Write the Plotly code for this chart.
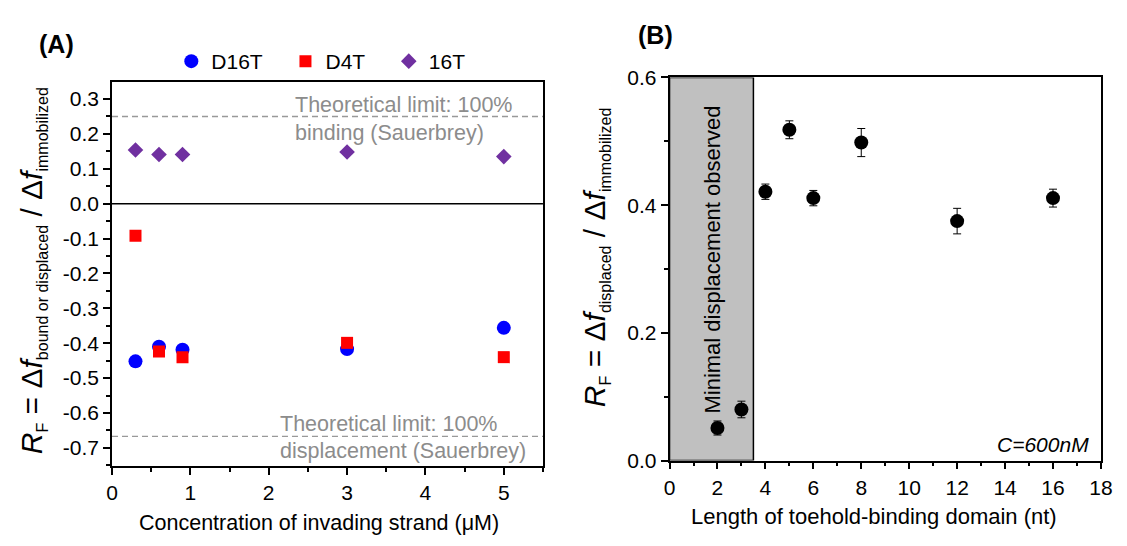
import plotly.graph_objects as go

# Panel A data
conc = [0.3, 0.6, 0.9, 3, 5]
d16t = [-0.452, -0.410, -0.419, -0.417, -0.356]
d4t = [-0.092, -0.424, -0.440, -0.399, -0.440]
t16 = [0.154, 0.141, 0.141, 0.148, 0.135]
ticks_a = [0.3, 0.2, 0.1, 0.0, -0.1, -0.2, -0.3, -0.4, -0.5, -0.6, -0.7]
ticklabels_a = ["0.3", "0.2", "0.1", "0.0", "-0.1", "-0.2", "-0.3", "-0.4", "-0.5", "-0.6", "-0.7"]

# Panel B data
toehold = [2, 3, 4, 5, 6, 8, 12, 16]
rf = [0.051, 0.080, 0.421, 0.518, 0.411, 0.498, 0.375, 0.411]
rf_err = [0.011, 0.013, 0.012, 0.014, 0.012, 0.022, 0.020, 0.014]

FONT = "Liberation Sans, Arial, sans-serif"
W, H = 1127, 546


def px(x):
    return x / W


def py(y):
    return 1 - y / H


fig = go.Figure()
fig.add_trace(go.Scatter(x=conc, y=d16t, mode="markers", name="D16T", legend="legend",
                         marker=dict(symbol="circle", size=14, color="#0000ff"),
                         xaxis="x", yaxis="y"))
fig.add_trace(go.Scatter(x=conc, y=d4t, mode="markers", name="D4T", legend="legend2",
                         marker=dict(symbol="square", size=12, color="#ff0000"),
                         xaxis="x", yaxis="y"))
fig.add_trace(go.Scatter(x=conc, y=t16, mode="markers", name="16T", legend="legend3",
                         marker=dict(symbol="diamond", size=12, color="#7030a0"),
                         xaxis="x", yaxis="y"))
fig.add_trace(go.Scatter(x=toehold, y=rf, mode="markers", showlegend=False,
                         marker=dict(symbol="circle", size=14, color="black"),
                         error_y=dict(type="data", array=rf_err, color="black",
                                      thickness=1, width=4),
                         xaxis="x2", yaxis="y2"))

axis_common = dict(showline=True, mirror=True, linecolor="black", linewidth=1.6,
                   ticks="outside", ticklen=7, tickwidth=1.5, tickcolor="black",
                   showgrid=False, zeroline=False,
                   tickfont=dict(family=FONT, size=21, color="black"))

leg_common = dict(orientation="h", yanchor="middle", y=py(51.7),
                  font=dict(family=FONT, size=21, color="black"),
                  bgcolor="rgba(0,0,0,0)", xanchor="left")

fig.update_layout(
    width=W, height=H, autosize=False,
    margin=dict(l=0, r=0, t=0, b=0),
    paper_bgcolor="white", plot_bgcolor="white",
    font=dict(family=FONT, color="black"),
    xaxis=dict(domain=[px(107.7), px(545.7)], range=[0, 5.5], tickvals=[0, 1, 2, 3, 4, 5],
               minor=dict(dtick=0.5, ticks="outside", ticklen=4, tickcolor="black", tickwidth=1.5),
               anchor="y", **axis_common),
    yaxis=dict(domain=[py(474), py(73.3)], range=[-0.7522, 0.3483],
               tickvals=ticks_a, ticktext=ticklabels_a,
               minor=dict(dtick=0.05, ticks="outside", ticklen=4, tickcolor="black", tickwidth=1.5),
               anchor="x", **axis_common),
    xaxis2=dict(domain=[px(674.3), px(1112.7)], range=[0, 18], dtick=2,
                minor=dict(dtick=1, ticks="outside", ticklen=4, tickcolor="black", tickwidth=1.5),
                anchor="y2", **axis_common),
    yaxis2=dict(domain=[py(468.3), py(68.3)], range=[0, 0.6], dtick=0.2,
                tickformat=".1f",
                minor=dict(dtick=0.1, ticks="outside", ticklen=4, tickcolor="black", tickwidth=1.5),
                anchor="x2", **axis_common),
    legend=dict(x=px(168), **leg_common),
    legend2=dict(x=px(284), **leg_common),
    legend3=dict(x=px(389), **leg_common),
    shapes=[
        dict(type="line", xref="x", yref="y", x0=0, x1=5.5, y0=0, y1=0,
             line=dict(color="black", width=1.6)),
        dict(type="line", xref="x", yref="y", x0=0, x1=5.5, y0=0.25, y1=0.25,
             line=dict(color="#999999", width=1.3, dash="6px,4px")),
        dict(type="line", xref="x", yref="y", x0=0, x1=5.5, y0=-0.667, y1=-0.667,
             line=dict(color="#999999", width=1.3, dash="6px,4px")),
        dict(type="rect", xref="x2", yref="y2", x0=0, x1=3.5, y0=0, y1=0.6,
             fillcolor="#c0c0c0", line=dict(color="black", width=1.5), layer="below"),
    ],
)

gray = "#8c8c8c"
ytitle_a = ("<i>R</i><sub><span style='font-size:16px'>F</span></sub> = Δ<i>f</i>"
            "<sub><span style='font-size:16px'>bound or displaced</span></sub> / Δ<i>f</i>"
            "<sub><span style='font-size:16px'>immobilized</span></sub>")
ytitle_b = ("<i>R</i><sub><span style='font-size:16px'>F</span></sub> = Δ<i>f</i>"
            "<sub><span style='font-size:16px'>displaced</span></sub> / Δ<i>f</i>"
            "<sub><span style='font-size:16px'>immobilized</span></sub>")
ann = [
    dict(text="<b>(A)</b>", x=px(51), y=py(33), font=dict(size=25)),
    dict(text="<b>(B)</b>", x=px(660), y=py(24), font=dict(size=25)),
    dict(text="Theoretical limit: 100%", x=px(292), y=py(96.7), xanchor="left", font=dict(size=21.5, color=gray)),
    dict(text="binding (Sauerbrey)", x=px(292), y=py(126.7), xanchor="left", font=dict(size=21.5, color=gray)),
    dict(text="Theoretical limit: 100%", x=px(276.5), y=py(430), xanchor="left", font=dict(size=21.5, color=gray)),
    dict(text="displacement (Sauerbrey)", x=px(276.5), y=py(458.3), xanchor="left", font=dict(size=21.5, color=gray)),
    dict(text=ytitle_a, x=px(27), y=py(270), textangle=-90, font=dict(size=30)),
    dict(text=ytitle_b, x=px(599.5), y=py(256), textangle=-90, font=dict(size=30)),
    dict(text="Concentration of invading strand (μM)", x=px(318), y=py(533), font=dict(size=21.5)),
    dict(text="Length of toehold-binding domain (nt)", x=px(882), y=py(527), font=dict(size=22)),
    dict(text="<i>C=600nM</i>", x=px(1103), y=py(452), xanchor="right", font=dict(size=21)),
]
annotations = []
for a in ann:
    d = dict(xref="paper", yref="paper", showarrow=False, xanchor=a.get("xanchor", "center"),
             yanchor="middle")
    d.update({k: v for k, v in a.items() if k not in ("font", "xanchor")})
    f = dict(family=FONT, color="black")
    f.update(a.get("font", {}))
    d["font"] = f
    annotations.append(d)
annotations.append(dict(text="Minimal displacement observed", xref="x2", yref="paper",
                        x=1.79, y=py(258), textangle=-90, showarrow=False,
                        xanchor="center", yanchor="middle",
                        font=dict(family=FONT, size=22, color="black")))
fig.update_layout(annotations=annotations)

fig.write_html("out.html")
